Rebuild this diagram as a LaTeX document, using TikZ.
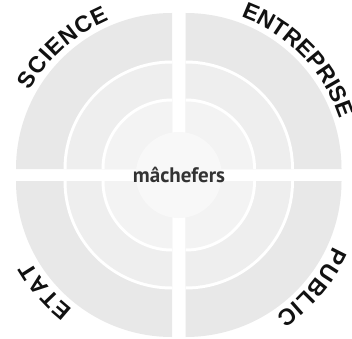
\documentclass[tikz,border=0pt]{standalone}
\usepackage{fontspec}
\setmainfont{Liberation Sans}
\newfontfamily\corefont{PT Sans}
\usetikzlibrary{decorations.text}
\definecolor{ringA}{HTML}{E8E8E8}
\definecolor{ringB}{HTML}{EEEEEE}
\definecolor{ringC}{HTML}{F3F3F3}
\definecolor{corefill}{HTML}{F8F8F8}
\definecolor{labelcol}{HTML}{111111}
\definecolor{corecol}{HTML}{333333}
\newcommand\lblfont{\fontsize{23}{26}\selectfont\bfseries\color{labelcol}}
% quarter sector: corner, start angle, radius, colour
\newcommand\qsector[4]{\fill[#4] (#1) -- ++(#2:#3) arc[start angle=#2, end angle=#2+90, radius=#3] -- cycle;}
\newcommand\qring[2]{%
  \qsector{#1}{#2}{156}{ringA}
  \qsector{#1}{#2}{108.5}{white}
  \qsector{#1}{#2}{105.5}{ringB}
  \qsector{#1}{#2}{70.5}{white}
  \qsector{#1}{#2}{67.5}{ringC}}
\tikzset{arclabel/.style={decorate,decoration={text along path,text={|\lblfont|#1},text align=center}}}
\begin{document}
\begin{tikzpicture}[x=1pt,y=1pt]
\useasboundingbox (0,0) rectangle (352,338);
\fill[white] (0,0) rectangle (352,338);
\coordinate (TL) at (172,169);
\coordinate (TR) at (185.5,169);
\coordinate (BL) at (172,157);
\coordinate (BR) at (185.5,157);
\coordinate (C) at (178.75,163);
\qring{TL}{90}
\qring{TR}{0}
\qring{BL}{180}
\qring{BR}{270}
\fill[corefill] (C) circle[radius=43];
\node[anchor=base, text=corecol, font=\corefont\bfseries\fontsize{21}{22}\selectfont] (core) at (179,156) {mâchefers};
\path[arclabel={S{\kern1pt}C{\kern1pt}I{\kern1pt}E{\kern1pt}N{\kern1pt}C{\kern1pt}E}] (TL) ++(168:162) arc[start angle=168, end angle=96, radius=162];
\path[arclabel={ENTREPRISE}] (TR) ++(80:162) arc[start angle=80, end angle=8, radius=162];
\path[arclabel={P{\kern1pt}U{\kern1pt}B{\kern1pt}L{\kern1pt}I{\kern1pt}C}] (BR) ++(-4:162) arc[start angle=-4, end angle=-76, radius=162];
\path[arclabel={E{\kern1pt}T{\kern1pt}A{\kern1pt}T}] (BL) ++(-106:162) arc[start angle=-106, end angle=-172, radius=162];
\end{tikzpicture}
\end{document}
